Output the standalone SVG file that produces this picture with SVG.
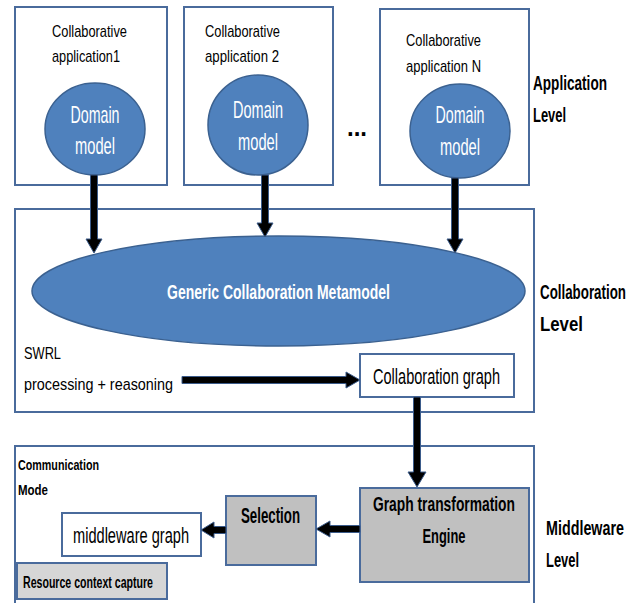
<svg xmlns="http://www.w3.org/2000/svg" width="638" height="603" viewBox="0 0 638 603">
<style>
.box{fill:#fff;stroke:#4a6b9c;stroke-width:2}
.gbox{fill:#c0c0c0;stroke:#4a6b9c;stroke-width:2}
.dm{fill:#4f81bd;stroke:#3b6190;stroke-width:1.5}
.arr{fill:#000;stroke:#3b5b8a;stroke-width:1}
text{font-family:"Liberation Sans",Arial,sans-serif;fill:#000}
.t14{font-size:17px}
.dmt{font-size:24px;fill:#fff;text-anchor:middle}
.lvl{font-size:15px;font-weight:bold}
.t17{font-size:17px}
.t22{font-size:22px}
</style>
<rect width="638" height="603" fill="#fff"/>
<g id="app1">
<rect class="box" x="15" y="7" width="152" height="178"/>
<text class="t14" x="52" y="37" textLength="75" lengthAdjust="spacingAndGlyphs">Collaborative</text>
<text class="t14" x="52" y="62" textLength="68" lengthAdjust="spacingAndGlyphs">application1</text>
<ellipse class="dm" cx="95" cy="129" rx="50" ry="46"/>
<text class="dmt" x="95" y="123" textLength="49" lengthAdjust="spacingAndGlyphs">Domain</text>
<text class="dmt" x="95" y="154" textLength="40" lengthAdjust="spacingAndGlyphs">model</text>
</g>
<g id="app2">
<rect class="box" x="184" y="7" width="149" height="178"/>
<text class="t14" x="205" y="37" textLength="75" lengthAdjust="spacingAndGlyphs">Collaborative</text>
<text class="t14" x="205" y="62" textLength="74" lengthAdjust="spacingAndGlyphs">application 2</text>
<ellipse class="dm" cx="258" cy="125" rx="50" ry="50"/>
<text class="dmt" x="258" y="118" textLength="50" lengthAdjust="spacingAndGlyphs">Domain</text>
<text class="dmt" x="258" y="150" textLength="40" lengthAdjust="spacingAndGlyphs">model</text>
</g>
<g id="dots"><text x="347" y="136" style="font-size:26px;font-weight:bold" textLength="20" lengthAdjust="spacingAndGlyphs">...</text></g>
<g id="appN">
<rect class="box" x="380" y="9" width="149" height="176"/>
<text class="t14" x="406" y="46" textLength="75" lengthAdjust="spacingAndGlyphs">Collaborative</text>
<text class="t14" x="406" y="72" textLength="75" lengthAdjust="spacingAndGlyphs">application N</text>
<ellipse class="dm" cx="460" cy="131" rx="50" ry="47"/>
<text class="dmt" x="460" y="123" textLength="49" lengthAdjust="spacingAndGlyphs">Domain</text>
<text class="dmt" x="460" y="155" textLength="40" lengthAdjust="spacingAndGlyphs">model</text>
</g>
<g id="appLevel">
<g transform="translate(0,90) scale(1,1.4)"><text class="lvl" x="533" y="0" textLength="74" lengthAdjust="spacingAndGlyphs">Application</text></g>
<g transform="translate(0,122) scale(1,1.4)"><text class="lvl" x="533" y="0" textLength="33" lengthAdjust="spacingAndGlyphs">Level</text></g>
</g>
<g id="collabLevel">
<rect class="box" x="15" y="209" width="519" height="203"/>
<g transform="translate(0,299) scale(1,1.5)"><text class="lvl" x="540" y="0" style="font-size:14px" textLength="86" lengthAdjust="spacingAndGlyphs">Collaboration</text></g>
<g transform="translate(0,331) scale(1,1.4)"><text class="lvl" x="540" y="0" textLength="43" lengthAdjust="spacingAndGlyphs">Level</text></g>
</g>
<g id="metamodel">
<ellipse class="dm" cx="278.5" cy="291" rx="246.5" ry="55"/>
<text x="278.5" y="299" style="font-size:21px;font-weight:bold;fill:#fff;text-anchor:middle" textLength="223" lengthAdjust="spacingAndGlyphs">Generic Collaboration Metamodel</text>
</g>
<g id="swrl">
<text class="t17" x="24" y="359" textLength="37" lengthAdjust="spacingAndGlyphs">SWRL</text>
<text class="t17" x="24" y="390" textLength="149" lengthAdjust="spacingAndGlyphs">processing + reasoning</text>
</g>
<g id="collabGraph">
<rect class="box" x="360" y="354" width="154" height="43"/>
<text class="t22" x="373" y="384" textLength="127" lengthAdjust="spacingAndGlyphs">Collaboration graph</text>
</g>
<g id="middlewareLevel">
<path d="M15,603 V446 H534 V603" fill="none" stroke="#4a6b9c" stroke-width="2"/>
<text x="18" y="470" style="font-size:15px;font-weight:bold" textLength="81" lengthAdjust="spacingAndGlyphs">Communication</text>
<text x="18" y="495" style="font-size:15px;font-weight:bold" textLength="30" lengthAdjust="spacingAndGlyphs">Mode</text>
<g transform="translate(0,535) scale(1,1.4)"><text class="lvl" x="546" y="0" textLength="78" lengthAdjust="spacingAndGlyphs">Middleware</text></g>
<g transform="translate(0,567) scale(1,1.4)"><text class="lvl" x="546" y="0" textLength="33" lengthAdjust="spacingAndGlyphs">Level</text></g>
</g>
<g id="engine">
<rect class="gbox" x="360" y="488" width="169" height="94"/>
<text x="444" y="511" style="font-size:21px;font-weight:bold;text-anchor:middle" textLength="142" lengthAdjust="spacingAndGlyphs">Graph transformation</text>
<text x="444" y="543" style="font-size:21px;font-weight:bold;text-anchor:middle" textLength="43" lengthAdjust="spacingAndGlyphs">Engine</text>
</g>
<g id="selection">
<rect class="gbox" x="226" y="496" width="90" height="69"/>
<text x="270.5" y="523" style="font-size:22px;font-weight:bold;text-anchor:middle" textLength="59" lengthAdjust="spacingAndGlyphs">Selection</text>
</g>
<g id="middlewareGraph">
<rect class="box" x="62" y="513" width="139" height="43"/>
<text class="t22" x="73" y="543" textLength="116" lengthAdjust="spacingAndGlyphs">middleware graph</text>
</g>
<g id="resource">
<rect class="gbox" x="17" y="563" width="150" height="36" style="fill:#d6d6d6"/>
<text x="23" y="588" style="font-size:16px;font-weight:bold" textLength="130" lengthAdjust="spacingAndGlyphs">Resource context capture</text>
</g>
<g id="connectors">
<polygon class="arr" points="90.5,175 97.5,175 97.5,239 102,239 94,253 86,239 90.5,239"/>
<polygon class="arr" points="261.5,175 268.5,175 268.5,223 273,223 265,237 257,223 261.5,223"/>
<polygon class="arr" points="451.5,178 458.5,178 458.5,239 463,239 455,253 447,239 451.5,239"/>
<polygon class="arr" points="182,376.5 346,376.5 346,372 360,380 346,388 346,383.5 182,383.5"/>
<polygon class="arr" points="413.5,397 420.5,397 420.5,472 426,472 417,487 408,472 413.5,472"/>
<polygon class="arr" points="360,525.5 330,525.5 330,521 316,529 330,537 330,532.5 360,532.5"/>
<polygon class="arr" points="226,526.5 214,526.5 214,522 201,530 214,538 214,533.5 226,533.5"/>
</g>
</svg>
